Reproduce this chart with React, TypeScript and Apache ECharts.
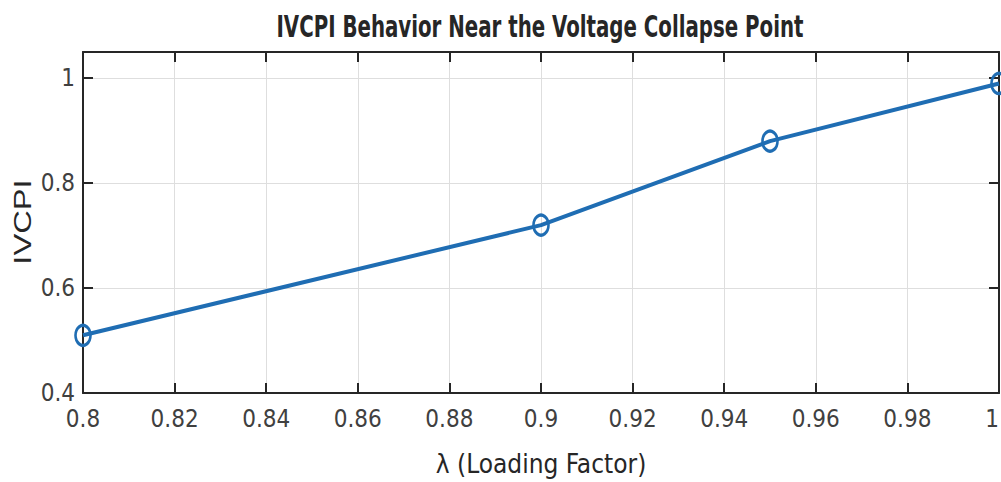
import React, { useEffect, useRef } from "react";
import * as echarts from "echarts";

const lambdaValues = [0.8, 0.9, 0.95, 1.0];
const ivcpiValues = [0.51, 0.72, 0.88, 0.99];
const titleText = "IVCPI Behavior Near the Voltage Collapse Point";
const xName = "λ (Loading Factor)";
const yName = "IVCPI";

export default function App() {
  const ref = useRef<HTMLDivElement>(null);
  useEffect(() => {
    document.body.style.margin = "0";
    const chart = echarts.init(ref.current!, null, { renderer: "svg" });
    const narrow = "'Liberation Sans Narrow', 'DejaVu Sans Condensed', sans-serif";
    const axisCol = "#262626";
    const gridCol = "#dedede";
    const baseX = {
      type: "value" as const,
      min: 0.8,
      max: 1,
      interval: 0.02,
      axisLine: { show: true, onZero: false, lineStyle: { color: axisCol, width: 2 } },
      axisTick: { show: true, inside: true, length: 10, lineStyle: { color: axisCol, width: 2 } },
    };
    const baseY = {
      type: "value" as const,
      min: 0.4,
      max: 1.05,
      interval: 0.2,
      axisLine: { show: true, onZero: false, lineStyle: { color: axisCol, width: 2 } },
      axisTick: { show: true, inside: true, length: 10, lineStyle: { color: axisCol, width: 2 } },
    };
    chart.setOption({
      animation: false,
      backgroundColor: "#ffffff",
      grid: { left: 83, right: 2, top: 52, bottom: 89, containLabel: false, outerBoundsMode: "none" },
      xAxis: [
        {
          ...baseX,
          position: "bottom",
          name: xName,
          nameLocation: "middle",
          nameGap: 58,
          nameTextStyle: { fontFamily: narrow, fontSize: 26, color: "#262626" },
          axisLabel: {
            fontFamily: narrow,
            fontSize: 24,
            color: "#404040",
            margin: 14,
            alignMaxLabel: "right",
          },
          splitLine: { show: true, lineStyle: { color: gridCol, width: 1 } },
        },
        {
          ...baseX,
          position: "top",
          axisLabel: { show: false },
          splitLine: { show: false },
        },
      ],
      yAxis: [
        {
          ...baseY,
          position: "left",
          axisLabel: { fontFamily: narrow, fontSize: 24, color: "#404040", margin: 8, showMaxLabel: false },
          splitLine: { show: true, lineStyle: { color: gridCol, width: 1 } },
        },
        {
          ...baseY,
          position: "right",
          axisLabel: { show: false },
          splitLine: { show: false },
        },
      ],
      graphic: [
        {
          type: "text",
          x: 540,
          y: 27,
          scaleY: 1.35,
          style: {
            text: titleText,
            fontFamily: narrow,
            fontWeight: "bold",
            fontSize: 22,
            fill: "#262626",
            textAlign: "center",
            textVerticalAlign: "middle",
          },
        },
        {
          type: "text",
          x: 23,
          y: 222,
          rotation: Math.PI / 2,
          scaleX: 1.42,
          style: {
            text: yName,
            fontFamily: "'Liberation Sans', Arial, sans-serif",
            fontSize: 23,
            fill: "#262626",
            textAlign: "center",
            textVerticalAlign: "middle",
          },
        },
      ],
      series: [
        {
          type: "line",
          xAxisIndex: 0,
          yAxisIndex: 0,
          data: lambdaValues.map((x, i) => [x, ivcpiValues[i]]),
          clip: false,
          symbol: "circle",
          symbolSize: [15, 20],
          lineStyle: { color: "#1f6db3", width: 4 },
          itemStyle: { color: "rgba(0,0,0,0)", borderColor: "#1f6db3", borderWidth: 3 },
        },
      ],
    });
    return () => chart.dispose();
  }, []);
  return <div ref={ref} style={{ width: 1001, height: 482 }} />;
}
